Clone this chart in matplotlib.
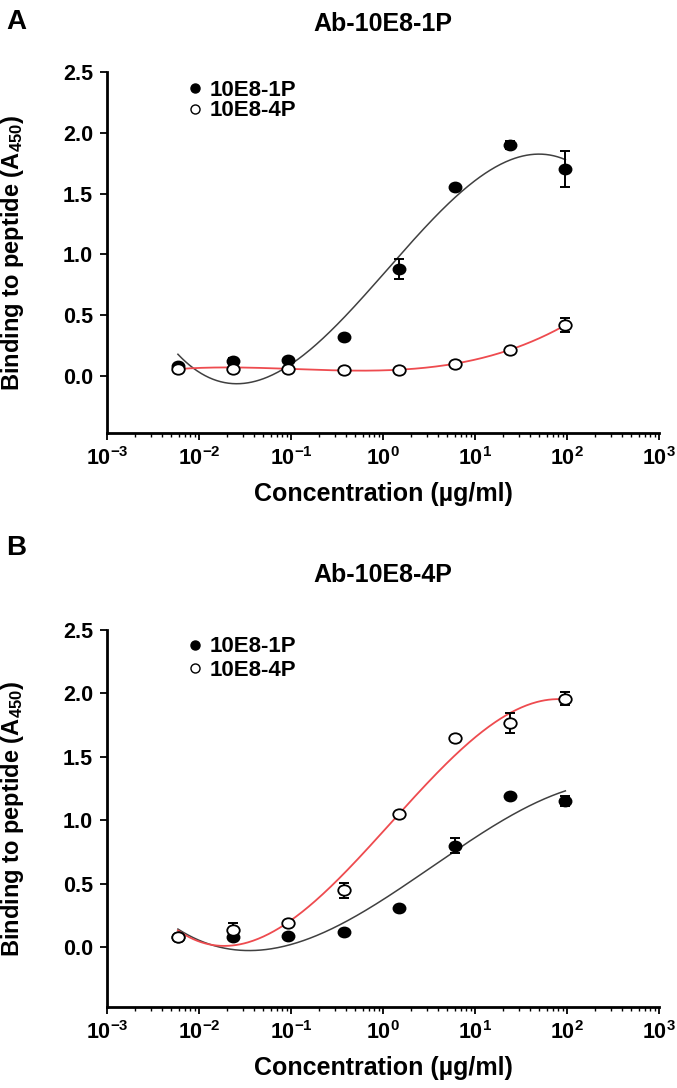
import numpy as np
import matplotlib
matplotlib.use("Agg")
import matplotlib.pyplot as plt
from matplotlib.ticker import FixedLocator, LogLocator, NullFormatter, FuncFormatter
from matplotlib.lines import Line2D
from matplotlib.path import Path
from matplotlib.transforms import Affine2D

plt.rcParams['font.family'] = ['Liberation Sans', 'DejaVu Sans']
plt.rcParams['font.weight'] = 'bold'
plt.rcParams['mathtext.fontset'] = 'custom'
plt.rcParams['mathtext.rm'] = 'Liberation Sans:bold'
plt.rcParams['mathtext.bf'] = 'Liberation Sans:bold'
plt.rcParams['mathtext.it'] = 'Liberation Sans:bold'

# ---- data ----
conc = [0.0059, 0.0234, 0.0938, 0.375, 1.5, 6.0, 24.0, 96.0]

titles = ["Ab-10E8-1P", "Ab-10E8-4P"]
panel_letters = ["A", "B"]
series_names = ["10E8-1P", "10E8-4P"]

a_1p = [0.08, 0.12, 0.13, 0.32, 0.88, 1.55, 1.90, 1.70]
a_1p_err = [0.01, 0.03, 0.01, 0.01, 0.08, 0.02, 0.03, 0.15]
a_4p = [0.06, 0.06, 0.06, 0.05, 0.05, 0.10, 0.21, 0.42]
a_4p_err = [0.01, 0.01, 0.01, 0.01, 0.01, 0.01, 0.02, 0.06]

b_1p = [0.08, 0.08, 0.09, 0.12, 0.31, 0.80, 1.19, 1.15]
b_1p_err = [0.01, 0.02, 0.01, 0.01, 0.01, 0.06, 0.02, 0.04]
b_4p = [0.08, 0.14, 0.19, 0.45, 1.05, 1.65, 1.77, 1.96]
b_4p_err = [0.02, 0.05, 0.02, 0.06, 0.01, 0.01, 0.08, 0.05]

y_ticks = [0.0, 0.5, 1.0, 1.5, 2.0, 2.5]
x_ticks = [1e-3, 1e-2, 1e-1, 1e0, 1e1, 1e2, 1e3]

panels = [
    (a_1p, a_1p_err, a_4p, a_4p_err),
    (b_1p, b_1p_err, b_4p, b_4p_err),
]

W, H = 677, 1088
fig = plt.figure(figsize=(W / 100, H / 100), dpi=100)

axes_px = [
    (107, 659, 72, 433),   # left, right, top, bottom
    (107, 659, 630, 1007),
]
title_y = [24, 575]
letter_y = [22, 548]
legend_rows = [(89, 112), (645, 672)]

# slightly wide ellipse marker (reference is horizontally stretched)
ell = Path.unit_circle().transformed(Affine2D().scale(1.2, 1.0))

def fit_curve(x, y, deg=3):
    lx = np.log10(x)
    p = np.polyfit(lx, y, deg)
    xs = np.linspace(lx.min(), lx.max(), 300)
    return 10 ** xs, np.polyval(p, xs)

for i, (y1, e1, y4, e4) in enumerate(panels):
    l, r, t, b = axes_px[i]
    ax = fig.add_axes([l / W, 1 - b / H, (r - l) / W, (b - t) / H])
    x = np.array(conc)

    xs, ys = fit_curve(x, np.array(y1), 3)
    ax.plot(xs, ys, color='#404040', lw=1.1, zorder=2)
    xs, ys = fit_curve(x, np.array(y4), 3)
    ax.plot(xs, ys, color='#ee4b4f', lw=1.3, zorder=2)

    ax.errorbar(x, y1, yerr=e1, fmt='none', ecolor='black', elinewidth=1.4,
                capsize=3.8, capthick=1.4, zorder=3)
    ax.plot(x, y1, ls='none', marker=ell, ms=9, mfc='black', mec='black', zorder=3.5)
    ax.errorbar(x, y4, yerr=e4, fmt='none', ecolor='black', elinewidth=1.4,
                capsize=3.8, capthick=1.4, zorder=4)
    ax.plot(x, y4, ls='none', marker=ell, ms=9, mfc='white', mec='black', mew=1.3, zorder=4.5)

    ax.set_xscale('log')
    ax.set_xlim(1e-3, 1e3)
    ax.set_ylim(-0.47, 2.5)
    ax.xaxis.set_major_locator(FixedLocator(x_ticks))
    ax.xaxis.set_minor_locator(LogLocator(base=10, subs=np.arange(2, 10), numticks=20))
    ax.xaxis.set_minor_formatter(NullFormatter())
    ax.xaxis.set_major_formatter(FuncFormatter(lambda v, pos: r'$\mathbf{10^{%d}}$' % int(round(np.log10(v)))))
    ax.set_yticks(y_ticks)
    ax.yaxis.set_major_formatter(FuncFormatter(lambda v, pos: '%.1f' % v))

    for s in ['top', 'right']:
        ax.spines[s].set_visible(False)
    for s in ['left', 'bottom']:
        ax.spines[s].set_linewidth(2.0)
    ax.tick_params(axis='both', which='major', direction='out', length=5, width=1.3,
                   labelsize=15.5)
    ax.tick_params(axis='x', which='minor', direction='out', length=3, width=1.0)
    ax.tick_params(axis='x', which='major', pad=5)
    ax.tick_params(axis='y', which='major', pad=5)
    for lab in ax.get_yticklabels():
        lab.set_fontweight('bold')

    ax.set_xlabel('Concentration (\u00b5g/ml)', fontsize=18, fontweight='bold', labelpad=9)
    ax.set_ylabel(r'Binding to peptide (A$_{\mathbf{450}}$)', fontsize=17, fontweight='bold')
    ax.yaxis.set_label_coords((26 - l) / (r - l), 0.5)

    fig.text(383 / W, 1 - title_y[i] / H, titles[i], fontsize=18, fontweight='bold',
             ha='center', va='center')
    fig.text(6 / W, 1 - letter_y[i] / H, panel_letters[i], fontsize=20,
             fontweight='bold', va='center', ha='left')

    handles = [
        Line2D([], [], ls='none', marker='o', ms=6.5, mfc='black', mec='black'),
        Line2D([], [], ls='none', marker='o', ms=6.5, mfc='white', mec='black', mew=1.0),
    ]
    r1, r2 = legend_rows[i]
    leg = ax.legend(handles, series_names, loc='center left',
                    bbox_to_anchor=(187 / W, 1 - (r1 + r2) / 2 / H),
                    bbox_transform=fig.transFigure, borderpad=0, borderaxespad=0,
                    frameon=False, handletextpad=0.3, handlelength=0.7,
                    labelspacing=max(0.0, (r2 - r1 - 25) / 22.0),
                    prop={'weight': 'bold', 'size': 16})

fig.savefig('out.png', dpi=100)
